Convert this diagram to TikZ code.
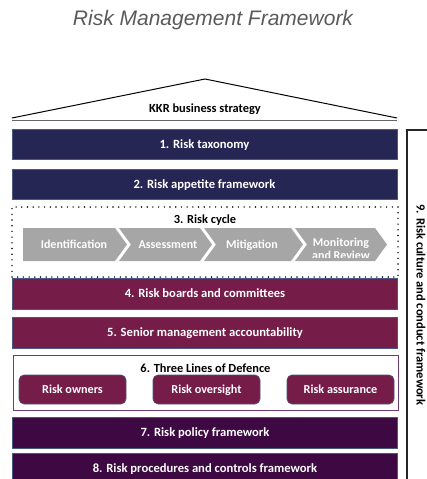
\documentclass[tikz,border=0pt]{standalone}
\usepackage{fontspec}
\setmainfont{Carlito}
\newfontfamily\titlefont{Liberation Sans}
\definecolor{navy}{RGB}{38,38,84}
\definecolor{maroon}{RGB}{118,28,72}
\definecolor{dpurple}{RGB}{62,8,66}
\definecolor{barline}{RGB}{70,90,130}
\definecolor{chev}{RGB}{166,166,166}
\definecolor{sixline}{RGB}{110,60,120}
\definecolor{titlegray}{RGB}{90,90,90}
\begin{document}
\begin{tikzpicture}[x=1pt,y=-1pt,
  bar/.style={draw=barline, line width=0.7pt, minimum width=385pt, minimum height=30pt, inner sep=0pt, outer sep=0pt, text=white, text height=0.8em, text depth=0em, font=\bfseries\fontsize{12.6}{14}\selectfont},
  navybar/.style={bar, fill=navy},
  maroonbar/.style={bar, fill=maroon},
  purplebar/.style={bar, fill=dpurple},
  subbox/.style={draw=barline, line width=0.7pt, fill=maroon, rounded corners=5pt, minimum width=107pt, minimum height=29pt, inner sep=0pt, text=white, text height=0.8em, text depth=0em, font=\bfseries\fontsize{12.2}{14}\selectfont},
  chevtext/.style={text=white, font=\bfseries\fontsize{12}{13}\selectfont, inner sep=0pt, text height=0.8em, text depth=0em},
  headtext/.style={text=black, font=\bfseries\fontsize{12.4}{14}\selectfont, inner sep=0pt, text height=0.8em, text depth=0em},
]
\useasboundingbox (0,0) rectangle (426,479);

% title
\node[font=\titlefont\itshape\fontsize{21}{24}\selectfont, text=titlegray] (title) at (213,20) {Risk Management Framework};

% roof
\coordinate (apex) at (205,79);
\coordinate (rl) at (12,118);
\coordinate (rr) at (397,118);
\draw[line width=1pt, line join=miter] (rl) -- (apex) -- (rr);
\draw[line width=0.8pt, black!60] (12,120) -- (397,120);
\node[headtext] (kkr) at (205,108) {KKR business strategy};

% bars
\node[navybar] (b1) at (204.5,144) {1. Risk taxonomy};
\node[navybar] (b2) at (204.5,184) {2. Risk appetite framework};

% risk cycle
\node[draw, line width=1.6pt, dash pattern=on 0pt off 5.7pt, line cap=round, minimum width=386pt, minimum height=70pt, inner sep=0pt] (b3) at (205,242) {};
\node[headtext] (b3t) at (205,219.5) {3. Risk cycle};

\fill[chev] (23,228) -- (115,228) -- (127,244.5) -- (115,261) -- (23,261) -- cycle;
\fill[chev] (119,228) -- (200,228) -- (212,244.5) -- (200,261) -- (119,261) -- (131,244.5) -- cycle;
\fill[chev] (204,228) -- (291,228) -- (303,244.5) -- (291,261) -- (204,261) -- (216,244.5) -- cycle;
\fill[chev] (295,228) -- (375,228) -- (387,244.5) -- (375,261) -- (295,261) -- (307,244.5) -- cycle;
\node[chevtext, anchor=base] (c4) at (341,246) {Monitoring};
\begin{scope}
\path[clip] (300,250) rectangle (385,257);
\node[chevtext, anchor=base] (c4b) at (341,259) {and Review};
\end{scope}
\node[chevtext] (c1) at (74,244.5) {Identification};
\node[chevtext] (c2) at (168,244.5) {Assessment};
\node[chevtext] (c3) at (252,244.5) {Mitigation};

% bars 4,5
\node[maroonbar, minimum height=31pt] (b4) at (205,293.5) {4. Risk boards and committees};
\node[maroonbar, minimum height=31pt] (b5) at (205,332.5) {5. Senior management accountability};

% three lines
\node[draw=sixline, line width=0.9pt, fill=white, minimum width=385pt, minimum height=55pt, inner sep=0pt] (b6) at (205.5,382.5) {};
\node[headtext] (b6t) at (205.5,368.5) {6. Three Lines of Defence};
\node[subbox] (s1) at (72.5,389.5) {Risk owners};
\node[subbox] (s2) at (206.5,389.5) {Risk oversight};
\node[subbox] (s3) at (340.5,389.5) {Risk assurance};

% bars 7,8
\node[purplebar, minimum height=31pt] (b7) at (205,432.5) {7. Risk policy framework};
\node[purplebar, minimum height=31pt] (b8) at (205,468.5) {8. Risk procedures and controls framework};

% right frame
\coordinate (fr) at (407,130);
\coordinate (frr) at (430,130);
\coordinate (frb) at (407,490);
\draw[line width=1.3pt, black!85] (frr) -- (fr) -- (frb);
\node[rotate=-90, headtext, font=\bfseries\fontsize{12.5}{14}\selectfont] (nine) at (420.5,305) {9. Risk culture and conduct framework};
\end{tikzpicture}
\end{document}
